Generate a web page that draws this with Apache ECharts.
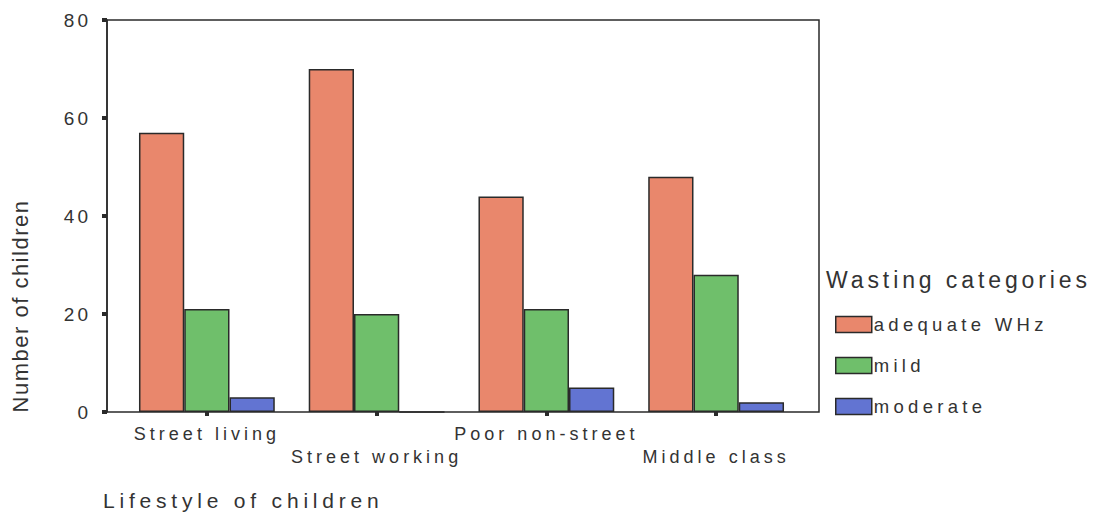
<!DOCTYPE html>
<html>
<head>
<meta charset="utf-8">
<script src="https://cdn.jsdelivr.net/npm/echarts@6/dist/echarts.min.js"></script>
<style>
html,body{margin:0;padding:0;background:#fff;}
#main{width:1106px;height:518px;}
</style>
</head>
<body>
<div id="main"></div>
<script>
const categories = ['Street living', 'Street working', 'Poor non-street', 'Middle class'];
const seriesNames = ['adequate WHz', 'mild', 'moderate'];
const adequateWHz = [57, 70, 44, 48];
const mild = [21, 20, 21, 28];
const moderate = [3, 0, 5, 2];
const yTicks = [0, 20, 40, 60, 80];
const legendTitle = 'Wasting categories';
const yTitle = 'Number of children';
const xTitle = 'Lifestyle of children';

const FONT = 'Liberation Sans';
const colors = ['#E9876C', '#6FBF6B', '#6274D2'];
const INK = '#2a2a2a';

const chart = echarts.init(document.getElementById('main'), null, {renderer: 'svg'});

const barSeries = [adequateWHz, mild, moderate].map((vals, i) => ({
  name: seriesNames[i],
  type: 'bar',
  xAxisIndex: 0,
  yAxisIndex: 0,
  data: vals,
  barGap: '0%',
  barCategoryGap: '20%',
  itemStyle: {color: colors[i], borderColor: INK, borderWidth: 1.5},
  emphasis: {disabled: true}
}));

chart.setOption({
  animation: false,
  backgroundColor: '#fff',
  grid: [
    {left: 122, right: 1106 - 801, top: 20, bottom: 518 - 412, containLabel: false},
    {left: 107, right: 1106 - 819, top: 20, bottom: 518 - 412, show: true,
     borderColor: INK, borderWidth: 1.5, backgroundColor: 'transparent'}
  ],
  xAxis: [
    {
      type: 'category', gridIndex: 0, data: categories,
      axisLine: {show: false},
      axisTick: {show: true, alignWithLabel: true, length: 4, lineStyle: {color: INK, width: 4}},
      axisLabel: {
        fontFamily: FONT, fontSize: 18, color: '#333', margin: 10, lineHeight: 23,
        interval: 0,
        formatter: (v, i) => (i % 2 ? '\n' + v : v)
      },
      splitLine: {show: false}
    },
    {type: 'value', gridIndex: 1, show: false}
  ],
  yAxis: [
    {
      type: 'value', gridIndex: 0, min: yTicks[0], max: yTicks[yTicks.length - 1], interval: 20,
      offset: 15,
      axisLine: {show: true, lineStyle: {color: INK, width: 1.5}},
      axisTick: {show: true, length: 5, lineStyle: {color: INK, width: 4}},
      axisLabel: {fontFamily: FONT, fontSize: 19, color: '#333', margin: 16},
      splitLine: {show: false}
    },
    {type: 'value', gridIndex: 1, show: false}
  ],
  legend: {
    orient: 'vertical',
    left: 830,
    top: 310,
    itemWidth: 36,
    itemHeight: 16,
    itemGap: 22,
    selectedMode: false,
    icon: 'rect',
    data: seriesNames,
    itemStyle: {borderColor: INK, borderWidth: 1.5},
    textStyle: {fontFamily: FONT, fontSize: 18.5, color: '#333', padding: [0, 0, 0, -3]}
  },
  graphic: [
    {type: 'text', x: 20, y: 306, rotation: Math.PI / 2,
     style: {text: yTitle, fontFamily: FONT, fontSize: 22, fill: '#333', align: 'center', verticalAlign: 'middle'}},
    {type: 'text', x: 103, y: 500,
     style: {text: xTitle, fontFamily: FONT, fontSize: 21, fill: '#333', align: 'left', verticalAlign: 'middle'}},
    {type: 'text', x: 826, y: 280,
     style: {text: legendTitle, fontFamily: FONT, fontSize: 23, fill: '#333', align: 'left', verticalAlign: 'middle'}}
  ],
  series: barSeries
});

const spacingBySize = {'18': 4, '19': 3, '21': 4.8, '22': 1.5, '23': 3.9, '18.5': 4.3};
function applySpacing() {
  document.querySelectorAll('#main svg text').forEach(t => {
    const fs = String(parseFloat(getComputedStyle(t).fontSize));
    if (spacingBySize[fs] != null) t.style.letterSpacing = spacingBySize[fs] + 'px';
  });
}
chart.on('finished', applySpacing);
applySpacing();
</script>
</body>
</html>
